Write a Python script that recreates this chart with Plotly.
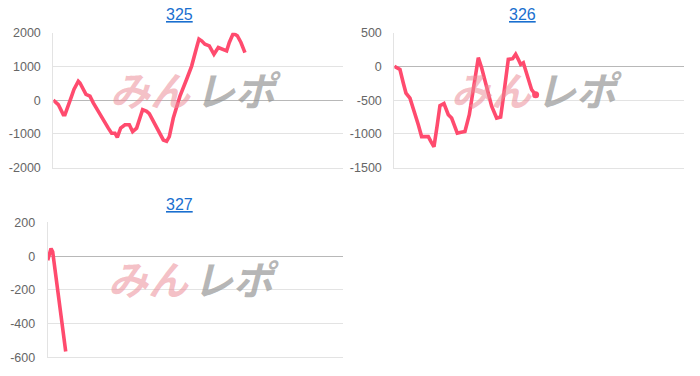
import plotly.graph_objects as go

W, H = 700, 376

titles = ["325", "326", "327"]

x325 = [0, 155, 310, 362, 569, 641, 776, 828, 1014, 1138, 1241, 1448, 1707, 1810, 1914, 1986,
        2090, 2224, 2359, 2462, 2586, 2772, 2897, 2979, 3207, 3414, 3517, 3600, 3724, 3931,
        4138, 4293, 4448, 4521, 4603, 4707, 4841, 4986, 5121, 5255, 5379, 5462, 5586, 5710,
        5824, 5948]
y325 = [0, -130, -430, -430, 120, 320, 560, 510, 170, 120, -80, -430, -830, -980, -980, -1100,
        -830, -730, -730, -930, -830, -280, -330, -400, -830, -1180, -1220, -1080, -530, 120,
        620, 1010, 1560, 1810, 1760, 1660, 1610, 1360, 1560, 1510, 1460, 1710, 1980, 1910,
        1710, 1410]

x326 = [0, 72, 176, 279, 362, 486, 641, 745, 848, 952, 1055, 1138, 1231, 1334, 1417, 1541,
        1676, 1779, 1883, 1955, 2038, 2193, 2328, 2452, 2607, 2710, 2866, 3021, 3176, 3300,
        3403, 3538, 3672, 3766, 3848, 3921, 4004, 4107, 4262, 4345, 4386]
y326 = [0, -20, -45, -245, -395, -470, -690, -865, -1040, -1040, -1040, -1115, -1190, -865,
        -580, -550, -715, -765, -890, -990, -980, -965, -715, -345, 130, -20, -295, -590, -765,
        -750, -395, 105, 115, 180, 105, 30, 55, -120, -345, -395, -420]

x327 = [0, 51, 101, 152, 223, 325, 426, 548]
y327 = [-24, 6, 45, 26, -83, -201, -358, -565]

ytick_vals = [[-2000, -1000, 0, 1000, 2000], [-1500, -1000, -500, 0, 500], [-600, -400, -200, 0, 200]]
ytick_text = [["-2000", "-1000", "0", "1000", "2000"], ["-1500", "-1000", "-500", "0", "500"],
              ["-600", "-400", "-200", "0", "200"]]
xmax = 9000


def ypx(p):
    # compensate observed vertical mapping of the renderer
    return (p - 7.7) / 0.959


# plot-area boxes in pixels: (left, right, top, bottom)
boxes = [(53.3, 343.3, 33.3, 167.7), (394.3, 684.3, 33.3, 167.7), (47.7, 343.3, 222.3, 356.7)]
title_pos = [(180, 15), (522, 15), (179, 204)]
logo_cy = [89, 89, 278]

series = [(x325, y325), (x326, y326), (x327, y327)]
LINE = "#ff4b6e"

fig = go.Figure()
annotations = []
for i, ((xs, ys), box) in enumerate(zip(series, boxes)):
    n = "" if i == 0 else str(i + 1)
    l, r, t, b = box
    t, b = ypx(t), ypx(b)
    fig.add_trace(go.Scatter(
        x=xs, y=ys, mode="lines", line=dict(color=LINE, width=3.6, shape="linear"),
        xaxis="x" + n, yaxis="y" + n, showlegend=False, hoverinfo="skip"))
    if i == 1:
        fig.add_trace(go.Scatter(
            x=xs[-1:], y=ys[-1:], mode="markers", marker=dict(color=LINE, size=7),
            xaxis="x" + n, yaxis="y" + n, showlegend=False, hoverinfo="skip"))
    yv = ytick_vals[i]
    fig.update_layout(**{
        "xaxis" + n: dict(domain=[l / W, r / W], range=[0, xmax], showticklabels=False,
                          showgrid=False, zeroline=False, showline=True,
                          linecolor="#e3e3e3", linewidth=1, mirror=False, fixedrange=True,
                          anchor="y" + n),
        "yaxis" + n: dict(domain=[1 - b / H, 1 - t / H], range=[yv[0], yv[-1]],
                          tickmode="array", tickvals=yv, ticktext=ytick_text[i],
                          showgrid=True, gridcolor="#e3e3e3", gridwidth=1,
                          zeroline=True, zerolinecolor="#b8b8b8", zerolinewidth=1,
                          showline=True, linecolor="#e3e3e3", linewidth=1,
                          ticks="", ticklabelstandoff=9,
                          tickfont=dict(family="Liberation Sans, Arial", size=12.5, color="#666666"),
                          anchor="x" + n),
    })
    tx, ty = title_pos[i]
    annotations.append(dict(
        text="<u>" + titles[i] + "</u>", x=tx / W, y=1 - ypx(ty) / H, xref="paper", yref="paper",
        showarrow=False, xanchor="center", yanchor="middle",
        font=dict(family="Liberation Sans, Arial", size=16, color="#1a6fcf")))
    # watermark
    cx = (l + r) / 2 - 5
    cy = ypx(logo_cy[i])
    annotations.append(dict(
        text="<b><i>みん</i></b>", x=cx / W, y=1 - cy / H, xref="paper", yref="paper",
        showarrow=False, xanchor="right", yanchor="middle",
        font=dict(family="Noto Sans CJK JP", size=40, color="rgba(235,140,150,0.55)")))
    annotations.append(dict(
        text="<b><i>レポ</i></b>", x=cx / W, y=1 - cy / H, xref="paper", yref="paper",
        showarrow=False, xanchor="left", yanchor="middle",
        font=dict(family="Noto Sans CJK JP", size=40, color="rgba(150,150,150,0.7)")))

fig.update_layout(
    width=W, height=H, autosize=False, margin=dict(l=0, r=0, t=0, b=0, pad=0),
    paper_bgcolor="white", plot_bgcolor="white",
    annotations=annotations, showlegend=False)

fig.write_html("out.html", config={"displayModeBar": False, "responsive": False},
               post_script="document.body.style.margin='0';document.body.style.padding='0';")
